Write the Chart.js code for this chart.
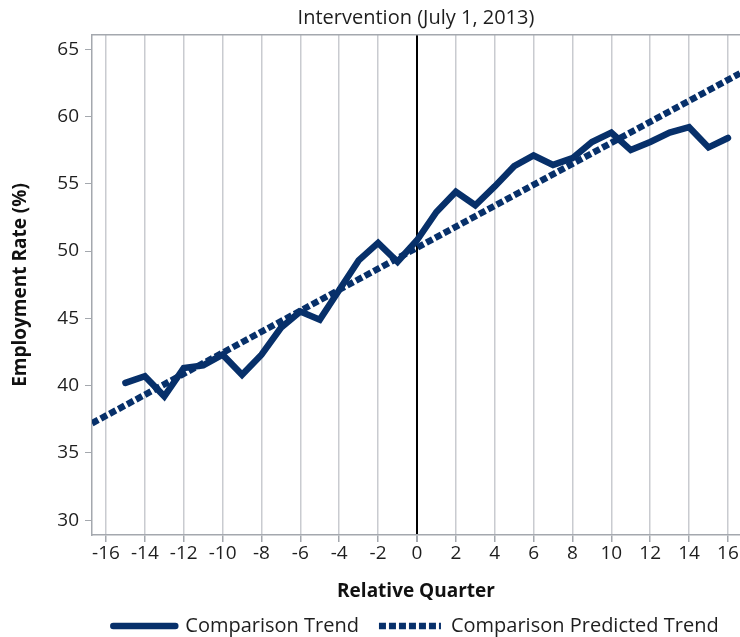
<!DOCTYPE html>
<html>
<head>
<meta charset="utf-8">
<script src="https://cdn.jsdelivr.net/npm/chart.js@4/dist/chart.umd.min.js"></script>
<style>
  html, body { margin: 0; padding: 0; background: #fff; }
  #wrap { width: 740px; height: 637px; }
</style>
</head>
<body>
<div id="wrap"><canvas id="chart"></canvas></div>
<script>
// Données
const quarters = [-15, -14, -13, -12, -11, -10, -9, -8, -7, -6, -5, -4, -3, -2, -1, 0,
                  1, 2, 3, 4, 5, 6, 7, 8, 9, 10, 11, 12, 13, 14, 15, 16];
const comparisonTrend = [40.2, 40.7, 39.2, 41.3, 41.5, 42.3, 40.8, 42.3, 44.3, 45.5, 44.9, 47.1,
                         49.3, 50.6, 49.2, 50.8, 52.9, 54.4, 53.4, 54.8, 56.3, 57.1, 56.4, 56.9,
                         58.1, 58.8, 57.5, 58.1, 58.8, 59.2, 57.7, 58.4];
const predictedQuarters = [-16.72, 16.62];
const predictedTrend = [37.2, 63.2];
const xTicks = [-16, -14, -12, -10, -8, -6, -4, -2, 0, 2, 4, 6, 8, 10, 12, 14, 16];
const yTicks = [30, 35, 40, 45, 50, 55, 60, 65];

const NAVY = '#07306a';
const GRID = '#c9cbd0';
const AXIS = '#a4a8ae';
const FONT = "'Open Sans', Lato, sans-serif";

Chart.defaults.font.family = FONT;
Chart.defaults.color = '#1e1e1e';

// la légende : hauteur fixe pour la coller en bas
const legendFit = {
    id: 'legendFit',
    afterInit(chart) {
        const lg = chart.legend;
        const fit = lg.fit;
        lg.fit = function () { fit.call(this); this.height = 41; };
    }
};

new Chart(document.getElementById('chart'), {
    type: 'line',
    data: {
        datasets: [{
            label: 'Comparison Trend',
            data: quarters.map((q, i) => ({ x: q, y: comparisonTrend[i] })),
            borderColor: NAVY,
            backgroundColor: NAVY,
            borderWidth: 6.5,
            borderCapStyle: 'round',
            borderJoinStyle: 'miter',
            pointRadius: 0,
            tension: 0
        }, {
            label: 'Comparison Predicted Trend',
            data: predictedQuarters.map((q, i) => ({ x: q, y: predictedTrend[i] })),
            borderColor: NAVY,
            backgroundColor: NAVY,
            borderWidth: 6.5,
            borderDash: [7, 3],
            borderCapStyle: 'butt',
            pointRadius: 0
        }]
    },
    plugins: [legendFit],
    options: {
        responsive: true,
        maintainAspectRatio: false,
        animation: false,
        layout: { padding: 0 },
        plugins: {
            legend: {
                position: 'bottom',
                fullSize: false,
                labels: {
                    usePointStyle: true,
                    pointStyle: 'line',
                    pointStyleWidth: 62,
                    boxHeight: 20,
                    padding: 20,
                    font: { size: 20 },
                    color: '#1e1e1e',
                    generateLabels: chart => Chart.defaults.plugins.legend.labels.generateLabels(chart).map(item => {
                        const ds = chart.data.datasets[item.datasetIndex];
                        item.lineDash = ds.borderDash || [];
                        item.lineWidth = ds.borderWidth;
                        item.lineCap = ds.borderCapStyle;
                        item.strokeStyle = ds.borderColor;
                        return item;
                    })
                }
            },
            tooltip: { enabled: false }
        },
        scales: {
            x: {
                type: 'linear',
                min: predictedQuarters[0],
                max: predictedQuarters[1],
                afterBuildTicks: s => { s.ticks = xTicks.map(v => ({ value: v })); },
                ticks: { font: { size: 19 }, color: '#1e1e1e', padding: 0 },
                grid: {
                    color: ctx => ctx.tick && ctx.tick.value === 0 ? '#000' : GRID,
                    lineWidth: ctx => ctx.tick && ctx.tick.value === 0 ? 2 : 1.5,
                    tickColor: AXIS,
                    tickLength: 7
                },
                border: { color: AXIS, width: 1.5 },
                title: {
                    display: true,
                    text: 'Relative Quarter',
                    font: { size: 19, weight: 'bold' },
                    color: '#111',
                    padding: { top: 0, bottom: -7 }
                },
                afterFit: s => { s.height = 61; }
            },
            x2: {
                type: 'linear',
                position: 'top',
                min: predictedQuarters[0],
                max: predictedQuarters[1],
                ticks: { display: false },
                grid: { display: false, drawTicks: false },
                border: { display: true, color: AXIS, width: 1.5 },
                title: {
                    display: true,
                    text: 'Intervention (July 1, 2013)',
                    font: { size: 20 },
                    color: '#1e1e1e',
                    padding: { top: 6, bottom: 0 }
                },
                afterFit: s => { s.height = 35; }
            },
            y: {
                min: 28.9,
                max: 66.05,
                afterBuildTicks: s => { s.ticks = yTicks.map(v => ({ value: v })); },
                ticks: { font: { size: 19 }, color: '#1e1e1e', padding: 6 },
                grid: { drawOnChartArea: false, tickColor: AXIS, tickLength: 7 },
                border: { color: AXIS, width: 1.5 },
                title: {
                    display: true,
                    text: 'Employment Rate (%)',
                    font: { size: 19, weight: 'bold' },
                    color: '#111',
                    padding: { top: 9, bottom: 0 }
                },
                afterFit: s => { s.width = 92; }
            }
        }
    }
});
</script>
</body>
</html>
